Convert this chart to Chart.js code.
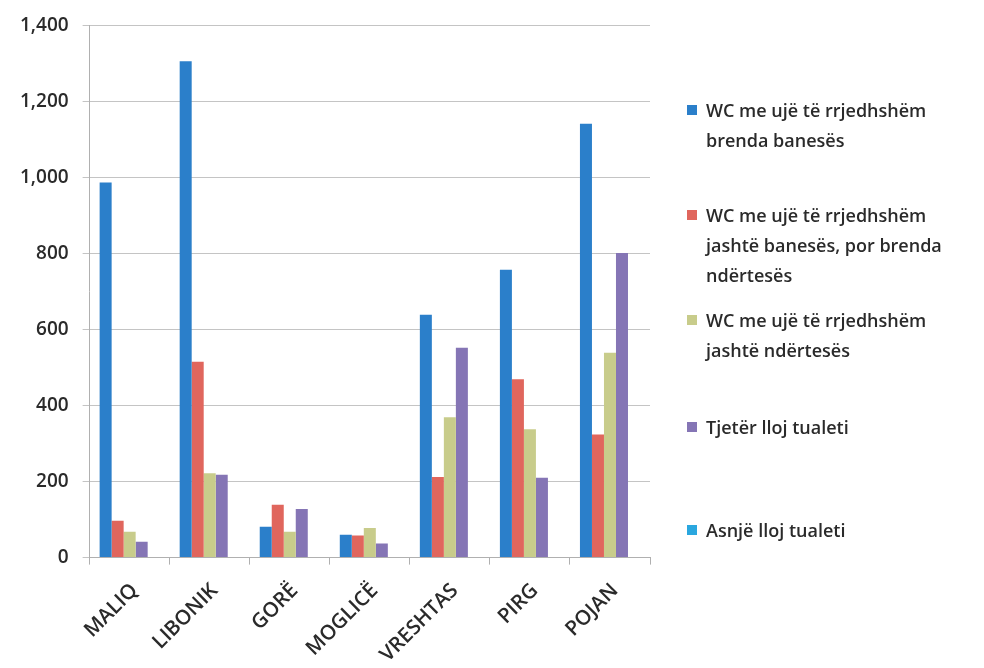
<!DOCTYPE html>
<html>
<head>
<meta charset="utf-8">
<script src="https://cdn.jsdelivr.net/npm/chart.js@4/dist/chart.umd.min.js"></script>
<style>
  body { margin: 0; background: #fff; }
  #wrap { position: relative; width: 984px; height: 668px; }
  #legend { position: absolute; left: 0; top: 0; width: 984px; height: 668px; pointer-events: none; }
  .item { position: absolute; left: 687px; width: 300px; font-family: "Open Sans", sans-serif; font-weight: 600;
          font-size: 18px; line-height: 30px; color: #2a2a2a; }
  .box { position: absolute; left: 0; top: 10px; width: 10px; height: 10px; }
  .txt { margin-left: 19px; }
</style>
</head>
<body>
<div id="wrap">
  <canvas id="chart" width="984" height="668"></canvas>
  <div id="legend"></div>
</div>
<script>
// categories and values
const villages = ['MALIQ', 'LIBONIK', 'GORË', 'MOGLICË', 'VRESHTAS', 'PIRG', 'POJAN'];
const wcInside = [987, 1306, 81, 60, 639, 757, 1141];
const wcOutsideFlat = [97, 515, 139, 58, 212, 469, 324];
const wcOutsideBuilding = [68, 222, 68, 78, 369, 338, 539];
const otherToilet = [42, 218, 128, 37, 552, 210, 801];
const noToilet = [0, 0, 0, 0, 0, 0, 0];
const yTicks = [0, 200, 400, 600, 800, 1000, 1200, 1400];

const seriesNames = [
    ['WC me ujë të rrjedhshëm', 'brenda banesës'],
    ['WC me ujë të rrjedhshëm', 'jashtë banesës, por brenda', 'ndërtesës'],
    ['WC me ujë të rrjedhshëm', 'jashtë ndërtesës'],
    ['Tjetër lloj tualeti'],
    ['Asnjë lloj tualeti']
];
const seriesColors = ['#2b7fca', '#e0665d', '#c8cc8b', '#8575b5', '#2aa7df'];
const seriesData = [wcInside, wcOutsideFlat, wcOutsideBuilding, otherToilet, noToilet];

const font = { family: '"Open Sans", sans-serif', weight: '600', size: 19 };

const ctx = document.getElementById('chart').getContext('2d');
new Chart(ctx, {
    type: 'bar',
    data: {
        labels: villages,
        datasets: seriesData.map((d, i) => ({
            label: seriesNames[i].join(' '),
            data: d,
            backgroundColor: seriesColors[i],
            borderWidth: 0,
            categoryPercentage: 0.75,
            barPercentage: 1
        }))
    },
    options: {
        responsive: false,
        animation: false,
        layout: { padding: { top: 8, right: 334, bottom: -13, left: 6 } },
        plugins: { legend: { display: false }, tooltip: { enabled: false } },
        scales: {
            x: {
                grid: { drawOnChartArea: false, color: '#b0b0b0', tickLength: 7 },
                border: { color: '#b0b0b0' },
                ticks: {
                    color: '#2a2a2a',
                    font: { family: font.family, weight: '600', size: 20.5 },
                    minRotation: 45, maxRotation: 45, padding: 14, labelOffset: 5
                }
            },
            y: {
                min: 0,
                max: 1400,
                afterBuildTicks: axis => { axis.ticks = yTicks.map(v => ({ value: v })); },
                grid: { color: '#c4c4c4', tickLength: 7 },
                border: { color: '#b0b0b0' },
                ticks: {
                    color: '#2a2a2a',
                    font: font,
                    padding: 14,
                    callback: v => v.toLocaleString('en-US')
                }
            }
        }
    }
});

// legend as html so the names can wrap like in the picture
const legendTops = [95, 200, 305, 412, 515];
const legend = document.getElementById('legend');
seriesNames.forEach((lines, i) => {
    const item = document.createElement('div');
    item.className = 'item';
    item.style.top = legendTops[i] + 'px';
    item.innerHTML = '<span class="box" style="background:' + seriesColors[i] + '"></span>' +
        '<div class="txt">' + lines.join('<br>') + '</div>';
    legend.appendChild(item);
});
</script>
</body>
</html>
